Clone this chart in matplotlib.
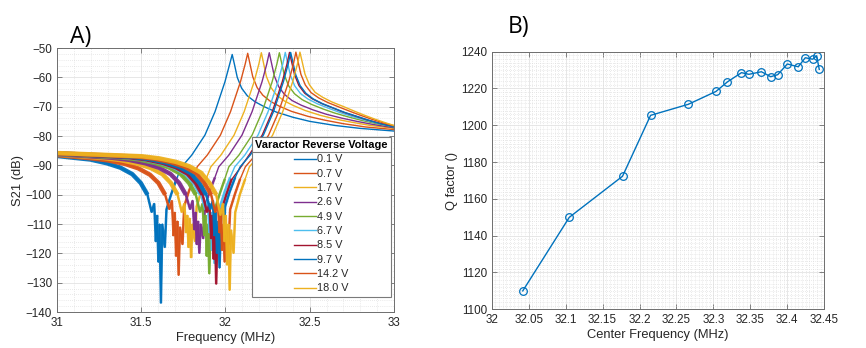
import matplotlib
matplotlib.use("Agg")
import matplotlib.pyplot as plt
from matplotlib.lines import Line2D
from matplotlib.ticker import MultipleLocator

plt.rcParams['font.family'] = ['Liberation Sans', 'DejaVu Sans']

# ---- panel A: S21 traces, one per varactor reverse voltage ----
voltages = ['0.1 V', '0.7 V', '1.7 V', '2.6 V', '4.9 V',
            '6.7 V', '8.5 V', '9.7 V', '14.2 V', '18.0 V']

f_01 = [31.00, 31.097, 31.197, 31.297, 31.377, 31.447, 31.497,
        31.537, 31.562, 31.577, 31.587, 31.594, 31.602, 31.609, 31.617, 31.625, 31.640, 31.650, 31.677, 31.707,
        31.740, 31.800, 31.878, 31.938, 31.997, 32.025, 32.040,
        32.055, 32.070, 32.096, 32.130,
        32.175, 32.230, 32.300, 32.400, 32.500, 32.650, 32.800, 33.000]
s_01 = [-86.8, -87.4, -88.0, -89.3, -90.8, -93.0, -96.0,
        -100, -106, -103, -116, -107, -123, -110, -137, -110, -118, -105, -100, -95,
        -90.5, -86.5, -79.7, -71.7, -61.5, -55.5, -52.2,
        -56.0, -60.0, -63.7, -66.3,
        -68.3, -70.0, -71.8, -73.6, -75.0, -76.4, -77.4, -78.3]

f_07 = [31.00, 31.202, 31.302, 31.402, 31.482, 31.552, 31.602,
        31.642, 31.667, 31.682, 31.692, 31.699, 31.707, 31.714, 31.722, 31.730, 31.745, 31.755, 31.782, 31.812,
        31.832, 31.892, 31.970, 32.030, 32.089, 32.117, 32.132,
        32.147, 32.162, 32.188, 32.222,
        32.267, 32.322, 32.392, 32.49, 32.59, 32.70, 32.83, 33.00]
s_07 = [-86.5, -87.6, -88.3, -89.5, -91.0, -93.2, -96.0,
        -100, -105, -102, -114, -106, -121, -109, -127.5, -111, -117, -104, -99, -94.5,
        -90.5, -86.5, -79.7, -71.7, -61.5, -55.5, -51.8,
        -55.8, -59.8, -63.5, -66.1,
        -68.2, -69.9, -71.6, -73.3, -74.6, -75.8, -76.9, -77.8]

f_17 = [31.00, 31.276, 31.376, 31.476, 31.556, 31.626, 31.676,
        31.716, 31.741, 31.756, 31.766, 31.773, 31.781, 31.788, 31.796, 31.804, 31.819, 31.829, 31.856, 31.886,
        31.913, 31.973, 32.051, 32.111, 32.170, 32.198, 32.213,
        32.228, 32.243, 32.269, 32.303,
        32.348, 32.403, 32.473, 32.56, 32.65, 32.75, 32.86, 33.00]
s_17 = [-86.3, -87.5, -88.2, -89.4, -90.9, -93.0, -96.0,
        -100, -106, -103, -113, -107, -118, -108, -121.5, -110, -116, -104, -99, -94.5,
        -90.5, -86.5, -79.7, -71.7, -61.5, -55.5, -51.6,
        -55.7, -59.7, -63.4, -66.0,
        -68.0, -69.6, -71.3, -72.9, -74.2, -75.3, -76.4, -77.4]

f_26 = [31.00, 31.325, 31.425, 31.525, 31.605, 31.675, 31.725,
        31.765, 31.790, 31.805, 31.815, 31.822, 31.830, 31.837, 31.845, 31.853, 31.868, 31.878, 31.905, 31.935,
        31.960, 32.020, 32.098, 32.158, 32.217, 32.245, 32.260,
        32.275, 32.290, 32.316, 32.350,
        32.395, 32.45, 32.52, 32.60, 32.69, 32.78, 32.88, 33.00]
s_26 = [-86.2, -87.4, -88.1, -89.3, -90.8, -93.0, -96.0,
        -100, -105, -102, -112, -106, -117, -109, -120, -110, -115, -104, -99, -94.5,
        -90.5, -86.5, -79.7, -71.7, -61.5, -55.5, -51.6,
        -55.6, -59.5, -63.2, -65.8,
        -67.9, -69.5, -71.1, -72.6, -73.9, -75.0, -76.1, -77.2]

f_49 = [31.00, 31.384, 31.484, 31.584, 31.664, 31.734, 31.784,
        31.824, 31.849, 31.864, 31.874, 31.881, 31.889, 31.896, 31.904, 31.912, 31.927, 31.937, 31.964, 31.994,
        32.020, 32.080, 32.158, 32.218, 32.277, 32.305, 32.320,
        32.335, 32.350, 32.376, 32.410,
        32.455, 32.51, 32.58, 32.65, 32.73, 32.81, 32.90, 33.00]
s_49 = [-86.1, -87.3, -88.0, -89.2, -90.7, -92.9, -96.0,
        -100, -106, -103, -114, -107, -121, -110, -127, -111, -118, -105, -100, -95,
        -90.5, -86.5, -79.7, -71.7, -61.5, -55.5, -51.6,
        -55.5, -59.3, -63.0, -65.6,
        -67.6, -69.2, -70.8, -72.2, -73.5, -74.7, -75.8, -76.9]

f_67 = [31.00, 31.415, 31.515, 31.615, 31.695, 31.765, 31.815,
        31.855, 31.880, 31.895, 31.905, 31.912, 31.920, 31.927, 31.935, 31.943, 31.958, 31.968, 31.995, 32.025,
        32.055, 32.115, 32.193, 32.253, 32.312, 32.340, 32.355,
        32.370, 32.385, 32.411, 32.445,
        32.49, 32.545, 32.615, 32.68, 32.75, 32.83, 32.91, 33.00]
s_67 = [-86.0, -87.2, -87.9, -89.1, -90.6, -92.8, -96.0,
        -100, -105, -102, -113, -106, -119, -109, -123.5, -110, -116, -104, -99, -94.5,
        -90.5, -86.5, -79.7, -71.7, -61.5, -55.5, -51.5,
        -55.4, -59.2, -62.9, -65.5,
        -67.4, -69.0, -70.6, -72.0, -73.3, -74.6, -75.7, -76.8]

f_85 = [31.00, 31.425, 31.525, 31.625, 31.705, 31.775, 31.825,
        31.865, 31.890, 31.905, 31.915, 31.922, 31.930, 31.937, 31.945, 31.953, 31.968, 31.978, 32.005, 32.035,
        32.080, 32.140, 32.218, 32.278, 32.337, 32.365, 32.380,
        32.395, 32.410, 32.436, 32.470,
        32.515, 32.57, 32.64, 32.70, 32.77, 32.84, 32.92, 33.00]
s_85 = [-86.0, -87.2, -87.9, -89.1, -90.6, -92.8, -96.0,
        -100, -106, -103, -115, -107, -122, -110, -130.5, -111, -119, -105, -100, -95,
        -91.5, -86.5, -79.7, -71.7, -61.5, -55.5, -51.5,
        -55.3, -59.1, -62.8, -65.4,
        -67.3, -68.9, -70.5, -71.9, -73.2, -74.5, -75.7, -76.7]

f_97 = [31.00, 31.445, 31.545, 31.645, 31.725, 31.795, 31.845,
        31.885, 31.910, 31.925, 31.935, 31.942, 31.950, 31.957, 31.965, 31.973, 31.988, 31.998, 32.025, 32.055,
        32.087, 32.147, 32.225, 32.285, 32.344, 32.372, 32.387,
        32.402, 32.417, 32.443, 32.477,
        32.522, 32.577, 32.647, 32.71, 32.78, 32.85, 32.92, 33.00]
s_97 = [-85.9, -87.1, -87.8, -89.0, -90.5, -92.7, -96.0,
        -100, -105, -102, -114, -106, -120, -109, -125, -110, -117, -104, -99, -94.5,
        -90.5, -86.5, -79.7, -71.7, -61.5, -55.5, -51.5,
        -55.3, -59.1, -62.8, -65.4,
        -67.4, -69.0, -70.6, -72.0, -73.3, -74.6, -75.8, -76.9]

f_142 = [31.00, 31.475, 31.575, 31.675, 31.755, 31.825, 31.875,
         31.915, 31.940, 31.955, 31.965, 31.972, 31.980, 31.987, 31.995, 32.003, 32.018, 32.028, 32.055, 32.085,
         32.118, 32.178, 32.256, 32.316, 32.375, 32.403, 32.418,
         32.433, 32.448, 32.474, 32.508,
         32.553, 32.608, 32.678, 32.74, 32.80, 32.87, 32.93, 33.00]
s_142 = [-85.9, -87.0, -87.7, -88.9, -90.4, -92.6, -96.0,
         -100, -106, -103, -113, -107, -119, -110, -123, -111, -117, -105, -100, -95,
         -90.5, -86.5, -79.7, -71.7, -61.5, -55.5, -51.4,
         -55.2, -59.0, -62.6, -65.2,
         -67.0, -68.6, -70.2, -71.6, -72.9, -74.3, -75.4, -76.5]

f_180 = [31.00, 31.505, 31.605, 31.705, 31.785, 31.855, 31.905,
         31.945, 31.970, 31.985, 31.995, 32.002, 32.010, 32.017, 32.025, 32.033, 32.048, 32.058, 32.085, 32.115,
         32.142, 32.202, 32.280, 32.340, 32.399, 32.427, 32.442,
         32.457, 32.472, 32.498, 32.532,
         32.577, 32.632, 32.702, 32.76, 32.82, 32.88, 32.94, 33.00]
s_180 = [-85.8, -86.9, -87.6, -88.8, -90.3, -92.5, -96.0,
         -100, -107, -103, -116, -107, -124, -110, -132.6, -112, -120, -106, -100, -95,
         -90.5, -86.5, -79.7, -71.7, -61.5, -55.5, -51.4,
         -55.1, -58.9, -62.5, -65.1,
         -66.8, -68.4, -70.0, -71.4, -72.8, -74.1, -75.3, -76.4]

freqs_a = [f_01, f_07, f_17, f_26, f_49, f_67, f_85, f_97, f_142, f_180]
s21_a = [s_01, s_07, s_17, s_26, s_49, s_67, s_85, s_97, s_142, s_180]

# ---- panel B: Q factor vs centre frequency ----
center_freq = [32.042, 32.105, 32.177, 32.215, 32.266, 32.3035, 32.319, 32.338, 32.348,
               32.365, 32.3775, 32.387, 32.400, 32.4148, 32.4243, 32.4343, 32.4397, 32.4432]
q_factor = [1110, 1150, 1172.3, 1205.4, 1211.4, 1218.4, 1223.6, 1228.6, 1227.7,
            1229.1, 1226.4, 1227.5, 1233.3, 1231.8, 1236.7, 1235.9, 1237.8, 1230.4]

matlab_colors = ['#0072BD', '#D95319', '#EDB120', '#7E2F8E', '#77AC30',
                 '#4DBEEE', '#A2142F', '#0072BD', '#D95319', '#EDB120']
n_floor = 8    # points on the noise-floor slope before the notch
n_noisy = 20   # points up to the end of the noisy notch region
tick_col = '#262626'
edge_col = '#6e6e6e'


def style_axes(ax):
    for sp in ax.spines.values():
        sp.set_color(edge_col)
        sp.set_linewidth(0.7)
    ax.tick_params(which='both', direction='in', top=True, right=True,
                   colors=edge_col, labelcolor=tick_col, labelsize=8.4)
    ax.tick_params(which='major', length=3.5, width=0.6)
    ax.tick_params(which='minor', length=0)
    ax.grid(which='major', color='#e3e3e3', lw=0.6, ls='-')
    ax.grid(which='minor', color='#d6d6d6', lw=0.5, ls=(0, (1, 2)))
    ax.set_axisbelow(True)


fig = plt.figure(figsize=(8.66, 3.48), dpi=100)

axA = fig.add_axes([0.0658, 0.1034, 0.3891, 0.7586])
for f, s, c, lab in zip(freqs_a, s21_a, matlab_colors, voltages):
    # noisy measurement floor drawn as a wider band
    axA.plot(f[:n_floor], s[:n_floor], color=c, lw=3.2, alpha=0.95, solid_capstyle='butt')
    axA.plot(f[n_floor - 1:n_noisy], s[n_floor - 1:n_noisy], color=c, lw=1.8, alpha=0.9,
             solid_joinstyle='bevel')
    axA.plot(f, s, color=c, lw=1.0, label=lab)
axA.set_xlim(31, 33)
axA.set_ylim(-140, -50)
axA.xaxis.set_minor_locator(MultipleLocator(0.1))
axA.yaxis.set_major_locator(MultipleLocator(10))
axA.yaxis.set_minor_locator(MultipleLocator(2))
axA.set_xticks([31, 31.5, 32, 32.5, 33], ['31', '31.5', '32', '32.5', '33'])
style_axes(axA)
axA.set_xlabel('Frequency (MHz)', fontsize=9.3, color=tick_col, labelpad=2)
axA.set_ylabel('S21 (dB)', fontsize=9.3, color=tick_col, labelpad=1)

leg = axA.legend(loc='upper right', bbox_to_anchor=(0.991, 0.664), borderaxespad=0,
                 title='Varactor Reverse Voltage',
                 title_fontproperties={'weight': 'bold', 'size': 7.9},
                 fontsize=7.8, alignment='center', handlelength=2.0, handletextpad=0.1,
                 labelspacing=0.4, borderpad=0.3, fancybox=False, framealpha=1,
                 edgecolor='#7a7a7a')
leg.get_frame().set_linewidth(0.8)
for t in leg.get_texts():
    t.set_color(tick_col)

axB = fig.add_axes([0.5678, 0.1112, 0.3840, 0.7403])
axB.plot(center_freq, q_factor, color='#0072BD', lw=1.0, marker='o',
         markerfacecolor='none', markeredgewidth=0.9, markersize=5.5)
axB.set_xlim(32, 32.45)
axB.set_ylim(1100, 1240)
axB.set_xticks([32, 32.05, 32.1, 32.15, 32.2, 32.25, 32.3, 32.35, 32.4, 32.45],
               ['32', '32.05', '32.1', '32.15', '32.2', '32.25', '32.3', '32.35', '32.4', '32.45'])
axB.xaxis.set_minor_locator(MultipleLocator(0.005))
axB.yaxis.set_major_locator(MultipleLocator(20))
axB.yaxis.set_minor_locator(MultipleLocator(2))
style_axes(axB)
axB.set_xlabel('Center Frequency (MHz)', fontsize=9.3, color=tick_col, labelpad=2)
axB.set_ylabel('Q factor ()', fontsize=9.3, color=tick_col, labelpad=2)

fig.text(70 / 866, 1 - 43 / 348, 'A)', fontsize=16.5, family=['Open Sans', 'DejaVu Sans'],
         va='baseline', ha='left')
fig.text(508 / 866, 1 - 33 / 348, 'B)', fontsize=16.5, family=['Open Sans', 'DejaVu Sans'],
         va='baseline', ha='left')

# separator line under the legend title, MATLAB style
fig.canvas.draw()
rend = fig.canvas.get_renderer()
fb = leg.get_frame().get_window_extent(rend)
tb = leg.get_title().get_window_extent(rend)
ysep = (tb.y0 - 2) / fig.bbox.height
fig.add_artist(Line2D([fb.x0 / fig.bbox.width, fb.x1 / fig.bbox.width], [ysep, ysep],
                      transform=fig.transFigure, color='#7a7a7a', lw=0.8))

fig.savefig('out.png', dpi=100)
